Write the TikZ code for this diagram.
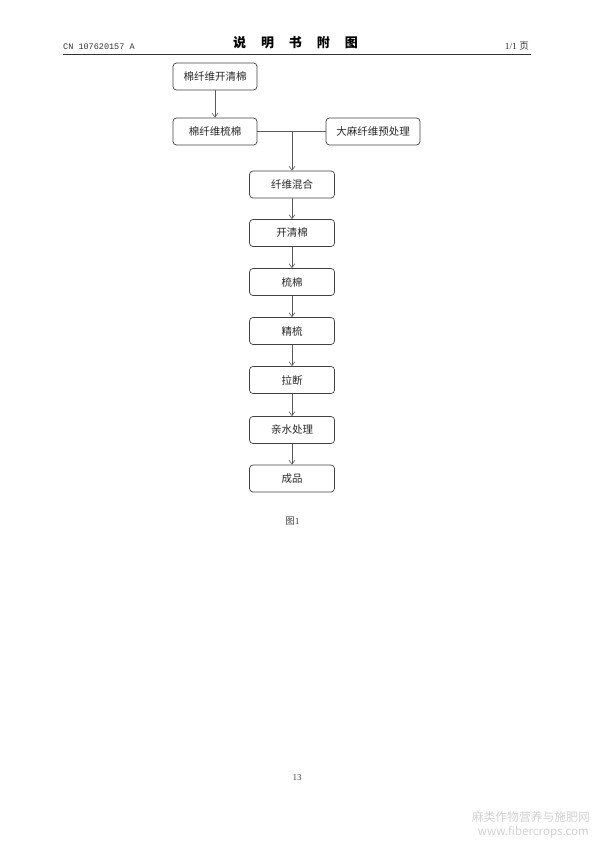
\documentclass[tikz,border=0pt]{standalone}
\usepackage{fontspec}
\setmainfont{Liberation Serif}
\newfontfamily\cjk{Noto Sans CJK SC}
\newfontfamily\monof{Liberation Mono}
\usetikzlibrary{arrows.meta}
\begin{document}
\begin{tikzpicture}[x=1pt,y=-1pt,
  stepbox/.style={draw=black!75,line width=0.7pt,rounded corners=3.5pt,minimum height=27pt,inner sep=0pt,font=\cjk\fontsize{10.5}{12}\selectfont,text=black!85},
  conn/.style={draw=black!65,line width=0.6pt},
  arr/.style={conn,-{Straight Barb[length=4pt,width=6pt]}}]
\useasboundingbox (0,0) rectangle (595,842);
% header
\node[anchor=west,font=\monof\fontsize{8.5}{10}\selectfont,text=black!80,inner sep=0] (cn) at (63,46.5) {CN 107620157 A};
\node[font=\cjk\bfseries\fontsize{13}{15}\selectfont,inner sep=0] (title) at (295.5,43) {说\hspace{1.15em}明\hspace{1.15em}书\hspace{1.15em}附\hspace{1.15em}图};
\node[anchor=east,font=\fontsize{9.5}{11}\selectfont,text=black!80,inner sep=0] (pg) at (529,46.5) {1/1 {\cjk 页}};
\coordinate (rl) at (63,54.5);
\coordinate (rr) at (531,54.5);
\draw[line width=1.1pt,black!80] (rl) -- (rr);
% boxes
\node[stepbox,minimum width=84pt] (b1) at (215,76.5) {棉纤维开清棉};
\node[stepbox,minimum width=84pt] (b2) at (215,131.5) {棉纤维梳棉};
\node[stepbox,minimum width=94pt] (b3) at (373,131.5) {大麻纤维预处理};
\node[stepbox,minimum width=85pt] (c1) at (292,184.5) {纤维混合};
\node[stepbox,minimum width=85pt] (c2) at (292,233) {开清棉};
\node[stepbox,minimum width=85pt] (c3) at (292,282) {梳棉};
\node[stepbox,minimum width=85pt] (c4) at (292,331) {精梳};
\node[stepbox,minimum width=85pt] (c5) at (292,380) {拉断};
\node[stepbox,minimum width=85pt] (c6) at (292,430) {亲水处理};
\node[stepbox,minimum width=85pt] (c7) at (292,478.5) {成品};
% connectors
\draw[arr] (b1) -- (b2);
\draw[conn] (b2.east) -- (b3.west);
\coordinate (j) at (c1.north |- b2.east);
\draw[arr] (j) -- (c1.north);
\draw[arr] (c1) -- (c2);
\draw[arr] (c2) -- (c3);
\draw[arr] (c3) -- (c4);
\draw[arr] (c4) -- (c5);
\draw[arr] (c5) -- (c6);
\draw[arr] (c6) -- (c7);
% captions
\node[font=\fontsize{9.5}{11}\selectfont,text=black!75,inner sep=0] (fig) at (292.5,521) {{\cjk 图}1};
\node[font=\fontsize{9}{10}\selectfont,text=black!75,inner sep=0] (num) at (297,778) {13};
% watermark
\node[anchor=east,font=\cjk\fontsize{11.8}{13}\selectfont,text=black!18,inner sep=0] (wm1) at (590,817) {麻类作物营养与施肥网};
\node[anchor=east,font=\cjk\fontsize{11.5}{13}\selectfont,text=black!18,inner sep=0] (wm2) at (589,832) {www.fibercrops.com};
\end{tikzpicture}
\end{document}
